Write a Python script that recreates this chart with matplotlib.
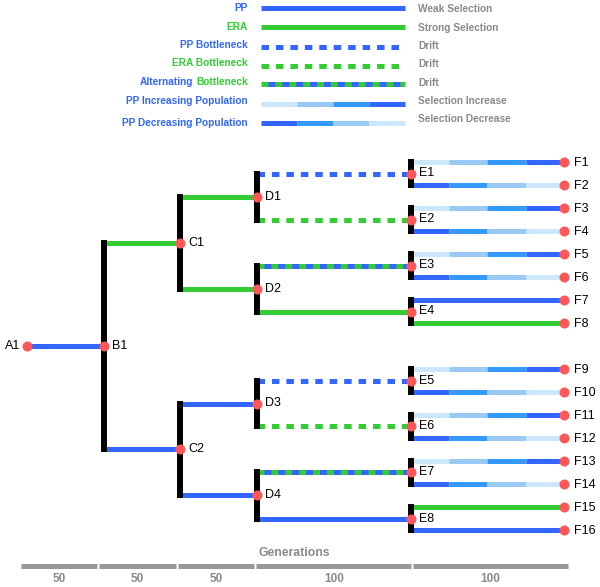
import matplotlib
matplotlib.use('Agg')
import matplotlib.pyplot as plt

plt.rcParams['font.family'] = ['Liberation Sans', 'DejaVu Sans']
plt.rcParams['lines.scale_dashes'] = False

BLUE = '#3366ff'
GREEN = '#33cc33'
RAMP = ['#cce6fb', '#99c9f5', '#3399ff', '#3366ff']
DOT = '#ff5757'
GRAY = '#8a8a8a'

# legend content
legend_labels = ['PP', 'ERA', 'PP Bottleneck', 'ERA Bottleneck', 'Alternating Bottleneck',
                 'PP Increasing Population', 'PP Decreasing Population']
legend_styles = ['pp', 'era', 'pp_bn', 'era_bn', 'alt', 'inc', 'dec']
legend_notes = ['Weak Selection', 'Strong Selection', 'Drift', 'Drift', 'Drift',
                'Selection Increase', 'Selection Decrease']

# tree: generation at which each level sits, and how each branch evolved
level_names = ['A', 'B', 'C', 'D', 'E', 'F']
level_gens = [0, 50, 100, 150, 250, 350]
edge_styles = {
    'B1': 'pp',
    'C1': 'era', 'C2': 'pp',
    'D1': 'era', 'D2': 'era', 'D3': 'pp', 'D4': 'pp',
    'E1': 'pp_bn', 'E2': 'era_bn', 'E3': 'alt', 'E4': 'era',
    'E5': 'pp_bn', 'E6': 'era_bn', 'E7': 'alt', 'E8': 'pp',
    'F1': 'inc', 'F2': 'dec', 'F3': 'inc', 'F4': 'dec',
    'F5': 'inc', 'F6': 'dec', 'F7': 'pp', 'F8': 'era',
    'F9': 'inc', 'F10': 'dec', 'F11': 'inc', 'F12': 'dec',
    'F13': 'inc', 'F14': 'dec', 'F15': 'era', 'F16': 'pp',
}
gen_blocks = [50, 50, 50, 100, 100]

LW = 3.6


def draw_edge(ax, x0, x1, y, style):
    if style == 'pp':
        ax.plot([x0, x1], [y, y], color=BLUE, lw=LW, solid_capstyle='butt')
    elif style == 'era':
        ax.plot([x0, x1], [y, y], color=GREEN, lw=LW, solid_capstyle='butt')
    elif style == 'pp_bn':
        ax.plot([x0, x1], [y, y], color=BLUE, lw=LW, ls=(0, (5.4, 5.0)), dash_capstyle='butt')
    elif style == 'era_bn':
        ax.plot([x0, x1], [y, y], color=GREEN, lw=LW, ls=(0, (5.4, 5.0)), dash_capstyle='butt')
    elif style == 'alt':
        ax.plot([x0, x1], [y, y], color=GREEN, lw=LW, solid_capstyle='butt')
        ax.plot([x0, x1], [y, y], color=BLUE, lw=LW, ls=(5, (5, 5)), dash_capstyle='butt')
    else:
        cols = RAMP if style == 'inc' else RAMP[::-1]
        step = (x1 - x0) / 4
        for k, c in enumerate(cols):
            ax.plot([x0 + k * step, x0 + (k + 1) * step], [y, y], color=c, lw=LW,
                    solid_capstyle='butt')


fig = plt.figure(figsize=(6.0, 5.87), dpi=100)

# ---- legend (pixel coordinates)
lg = fig.add_axes([0, 0, 1, 1])
lg.set_xlim(0, 600)
lg.set_ylim(587, 0)
lg.axis('off')
line_y = [8, 27, 47, 66, 84, 104, 123]
text_y = [8, 27, 45, 63, 82, 101, 123]
note_y = [9, 28, 46, 64, 83, 101, 119]
fs_leg = 7.3
fig.canvas.draw()
renderer = fig.canvas.get_renderer()
for lab, sty, note, ly, ty, ny in zip(legend_labels, legend_styles, legend_notes,
                                      line_y, text_y, note_y):
    draw_edge(lg, 261, 405, ly, sty)
    if sty == 'alt':
        first, second = lab.split(' ', 1)
        t = lg.text(248, ty, second, color=GREEN, fontsize=fs_leg, fontweight='bold',
                    ha='right', va='center')
        bb = t.get_window_extent(renderer).transformed(lg.transData.inverted())
        lg.text(min(bb.x0, bb.x1) - 2.5, ty, first, color=BLUE, fontsize=fs_leg,
                fontweight='bold', ha='right', va='center')
    else:
        col = GREEN if sty.startswith('era') else BLUE
        lg.text(248, ty, lab, color=col, fontsize=fs_leg, fontweight='bold',
                ha='right', va='center')
    lg.text(418, ny, note, color=GRAY, fontsize=fs_leg, fontweight='bold',
            ha='left', va='center')

# ---- tree (x in generations, y in leaf slots)
tr = fig.add_axes([0, 0, 1, 1])
tr.patch.set_alpha(0)
px_per_gen = 1.534
tr.set_xlim(-27 / px_per_gen, 573 / px_per_gen)
slot_px = 23.0
tr.set_ylim((587 - 162) / slot_px, -162 / slot_px)
tr.axis('off')

# positions of nodes
pos = {}
n_leaves = 16
for i in range(n_leaves):
    slot = i + (1 if i >= n_leaves // 2 else 0)
    pos['F%d' % (i + 1)] = (level_gens[5], slot)
for lvl in range(4, 0, -1):
    for j in range(2 ** (lvl - 1)):
        c1 = pos['%s%d' % (level_names[lvl + 1], 2 * j + 1)]
        c2 = pos['%s%d' % (level_names[lvl + 1], 2 * j + 2)]
        pos['%s%d' % (level_names[lvl], j + 1)] = (level_gens[lvl], (c1[1] + c2[1]) / 2)
pos['A1'] = (level_gens[0], pos['B1'][1])

# branches
parent = {'B1': 'A1'}
for lvl in range(2, 6):
    for j in range(2 ** (lvl - 1)):
        parent['%s%d' % (level_names[lvl], j + 1)] = '%s%d' % (level_names[lvl - 1], j // 2 + 1)

for child, sty in edge_styles.items():
    px, _ = pos[parent[child]]
    cx, cy = pos[child]
    draw_edge(tr, px, cx, cy, sty)

# black split bars
for lvl in range(1, 5):
    for j in range(2 ** (lvl - 1)):
        name = '%s%d' % (level_names[lvl], j + 1)
        c1 = pos['%s%d' % (level_names[lvl + 1], 2 * j + 1)]
        c2 = pos['%s%d' % (level_names[lvl + 1], 2 * j + 2)]
        tr.plot([pos[name][0]] * 2, [c1[1], c2[1]], color='black', lw=4.3,
                solid_capstyle='projecting', zorder=3)

# dots and labels
for name, (x, y) in pos.items():
    tr.plot(x, y, 'o', color=DOT, ms=7.2, mec='none', zorder=5)
    if name == 'A1':
        tr.annotate(name, (x, y), xytext=(-4.5, 0), textcoords='offset points',
                    ha='right', va='center', fontsize=9, zorder=6)
    elif name.startswith('F'):
        tr.annotate(name, (x, y), xytext=(7.5, -1), textcoords='offset points',
                    ha='left', va='center', fontsize=9, zorder=6)
    else:
        tr.annotate(name, (x, y), xytext=(6, 0), textcoords='offset points',
                    ha='left', va='center', fontsize=9, zorder=6)

# ---- generation bar
gb = fig.add_axes([0, 0, 1, 1])
gb.patch.set_alpha(0)
bar_px_per_gen = 1.5686
gb.set_xlim(-20 / bar_px_per_gen, 580 / bar_px_per_gen)
gb.set_ylim(587, 0)
gb.axis('off')
start = 0
for g in gen_blocks:
    gb.plot([start + 0.6, start + g - 0.6], [565.5, 565.5], color='#999999', lw=3.6,
            solid_capstyle='butt')
    gb.text(start + g / 2, 579, str(g), color=GRAY, fontsize=8.5, fontweight='bold',
            ha='center', va='center')
    start += g
gb.text(sum(gen_blocks) / 2, 553, 'Generations', color=GRAY, fontsize=8.8,
        fontweight='bold', ha='center', va='center')

fig.savefig('out.png', dpi=100)
